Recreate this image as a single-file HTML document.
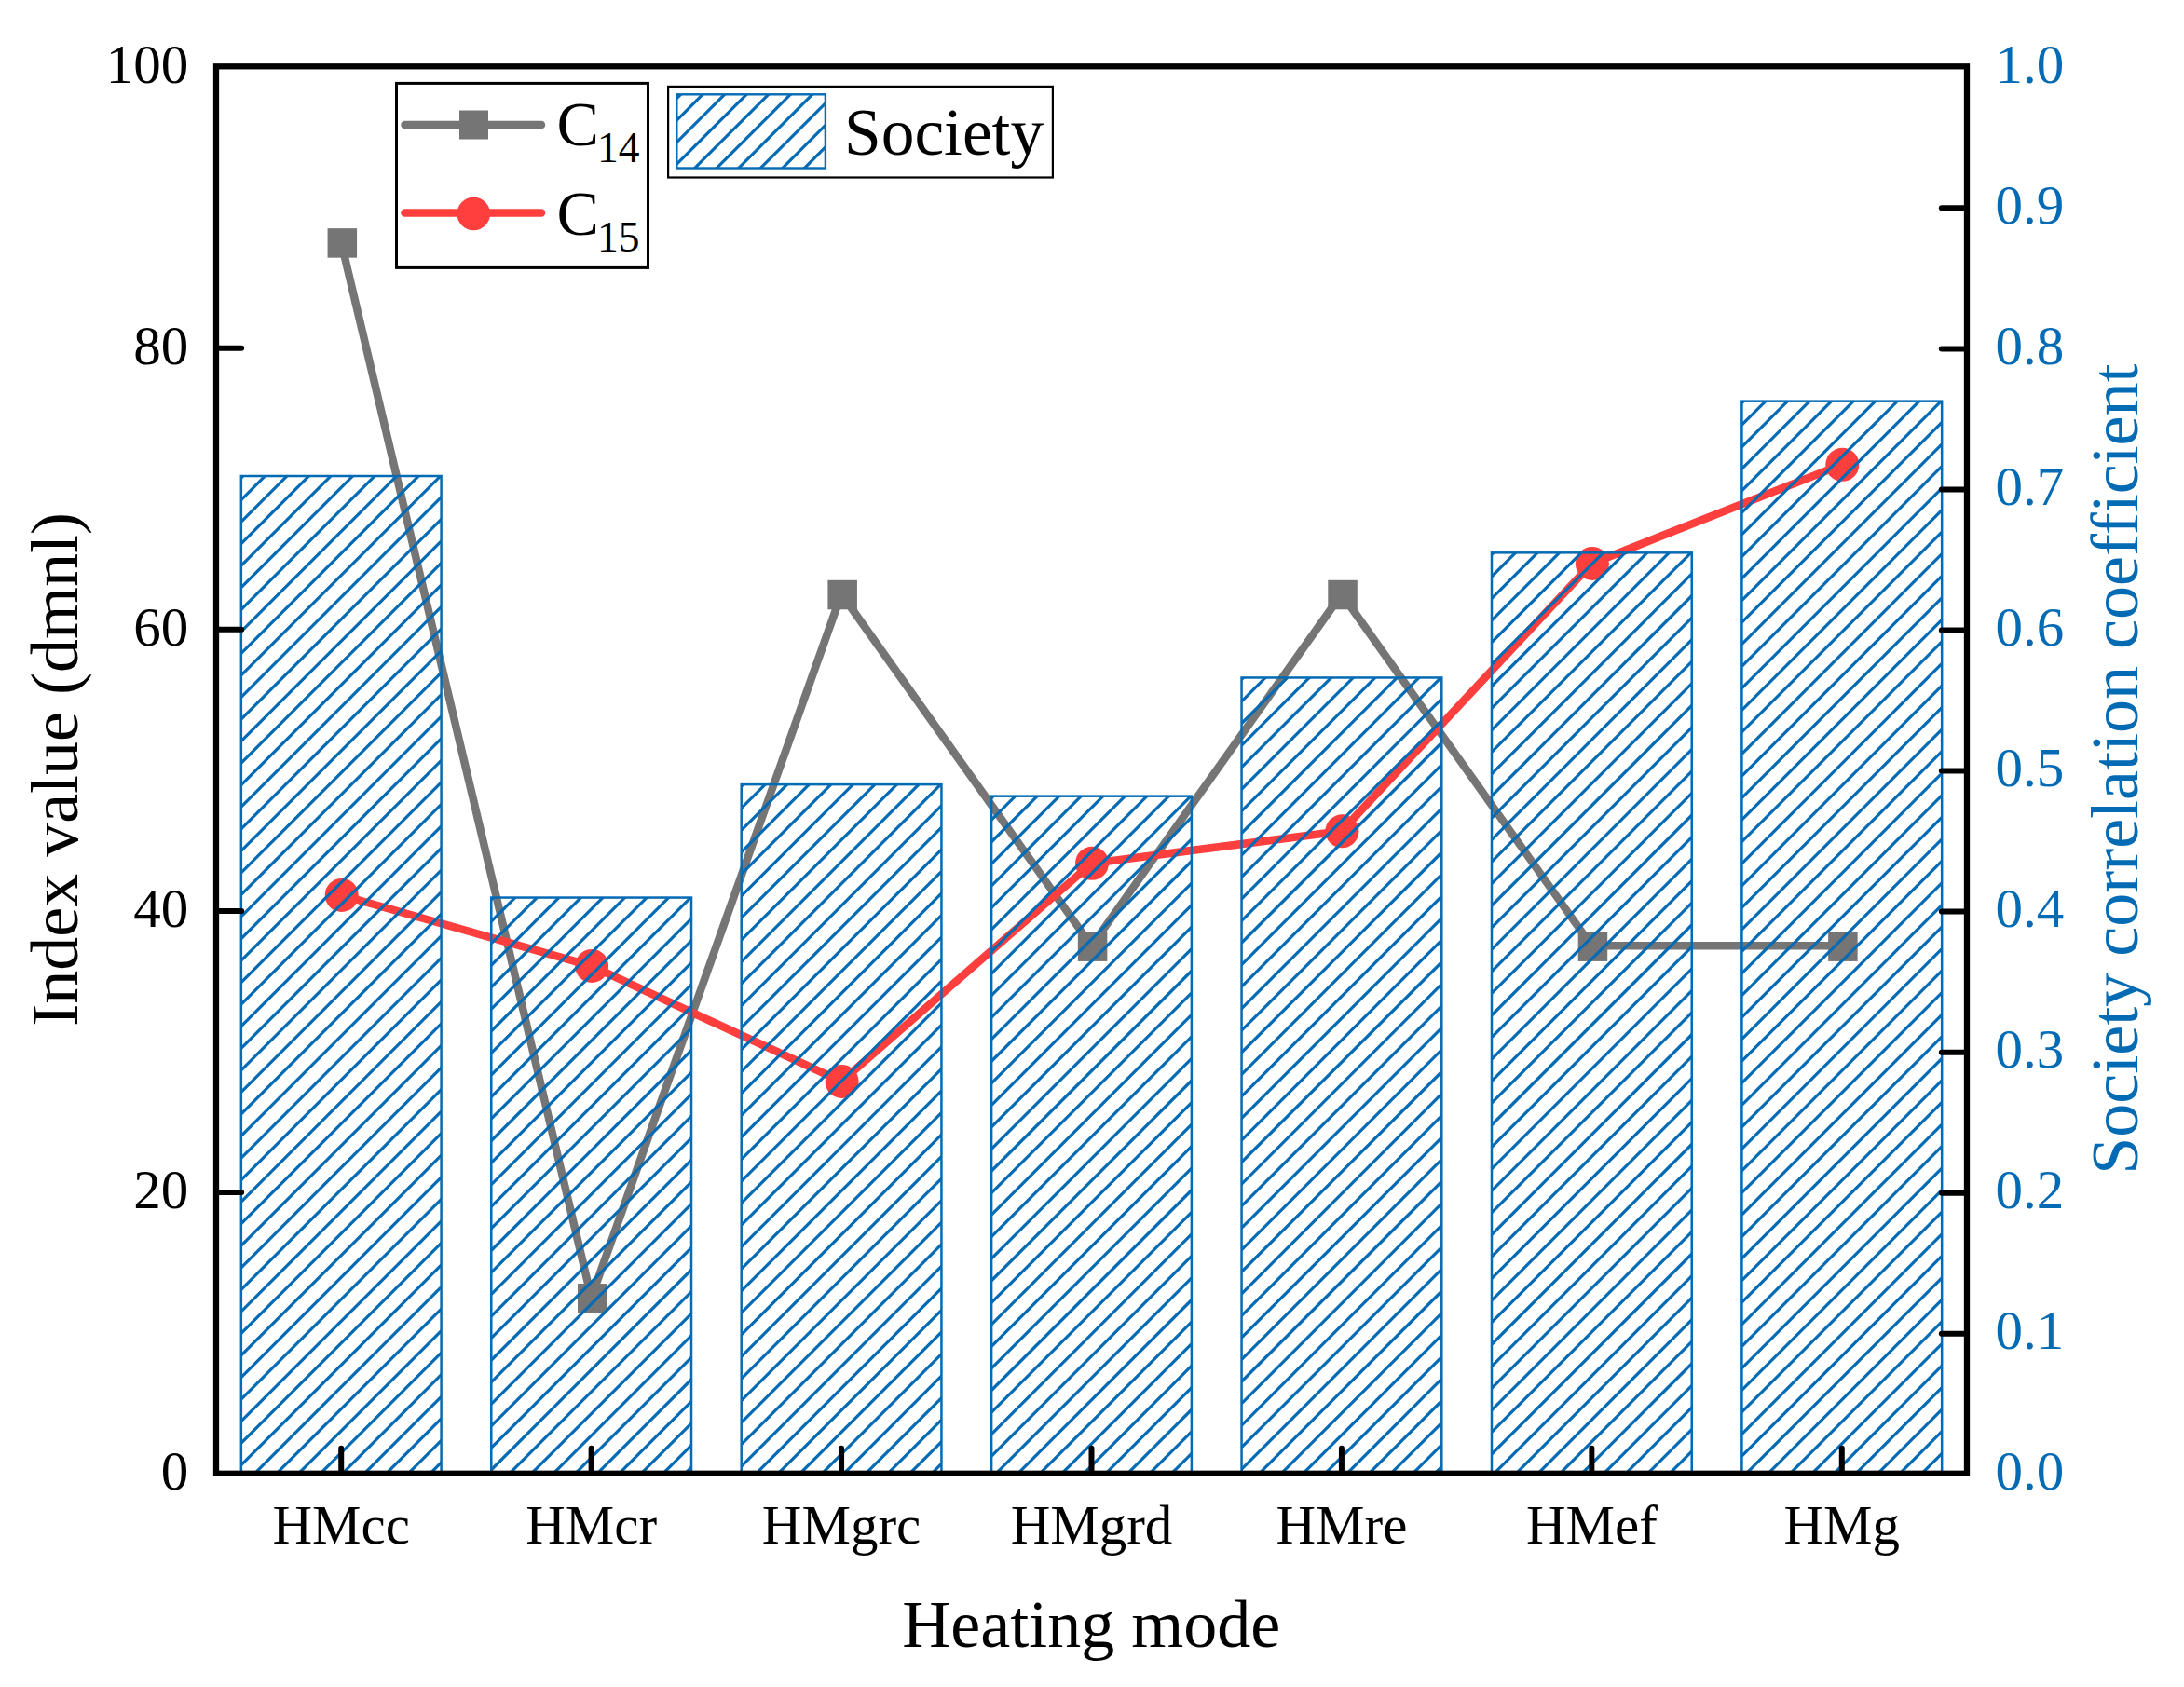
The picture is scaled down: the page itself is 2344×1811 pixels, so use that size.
<!DOCTYPE html>
<html lang="en"><head><meta charset="utf-8"><title>Heating mode chart</title>
<style>html,body{margin:0;padding:0;background:#fff;}body{width:2344px;height:1811px;overflow:hidden;}svg{display:block;}text{font-family:'Liberation Serif', 'Times New Roman', Times, serif;}</style>
</head><body>
<svg width="2344" height="1811" viewBox="0 0 2344 1811">
<rect x="0" y="0" width="2344" height="1811" fill="#ffffff"/>
<g id="series-c14">
<polyline points="366.21,260.11 634.64,1392.99 903.07,637.74 1171.50,1015.36 1439.93,637.74 1708.36,1015.36 1976.79,1015.36" fill="none" stroke="#757575" stroke-width="8.50" stroke-linejoin="round" stroke-linecap="round"/>
<rect x="351.56" y="245.16" width="31.5" height="31.5" fill="#757575"/>
<rect x="619.99" y="1378.04" width="31.5" height="31.5" fill="#757575"/>
<rect x="888.42" y="622.79" width="31.5" height="31.5" fill="#757575"/>
<rect x="1156.85" y="1000.41" width="31.5" height="31.5" fill="#757575"/>
<rect x="1425.28" y="622.79" width="31.5" height="31.5" fill="#757575"/>
<rect x="1693.71" y="1000.41" width="31.5" height="31.5" fill="#757575"/>
<rect x="1962.14" y="1000.41" width="31.5" height="31.5" fill="#757575"/>
</g>
<g id="series-c15">
<polyline points="366.21,960.98 634.64,1036.96 903.07,1160.97 1171.50,926.85 1439.93,892.26 1708.36,604.96 1976.79,498.77" fill="none" stroke="#ff3e3e" stroke-width="8.50" stroke-linejoin="round" stroke-linecap="round"/>
<circle cx="366.71" cy="960.98" r="18" fill="#ff3e3e"/>
<circle cx="635.14" cy="1036.96" r="18" fill="#ff3e3e"/>
<circle cx="903.57" cy="1160.97" r="18" fill="#ff3e3e"/>
<circle cx="1172.00" cy="926.85" r="18" fill="#ff3e3e"/>
<circle cx="1440.43" cy="892.26" r="18" fill="#ff3e3e"/>
<circle cx="1708.86" cy="604.96" r="18" fill="#ff3e3e"/>
<circle cx="1977.29" cy="498.77" r="18" fill="#ff3e3e"/>
</g>
<g id="bars">
<clipPath id="cb0"><rect x="258.84" y="511.01" width="214.74" height="1070.79"/></clipPath>
<g clip-path="url(#cb0)" stroke="#036ab4" stroke-width="3.20" fill="none">
<path d="M253.84 518.01 L265.84 506.01 M253.84 541.56 L289.39 506.01 M253.84 565.11 L312.94 506.01 M253.84 588.66 L336.49 506.01 M253.84 612.21 L360.04 506.01 M253.84 635.76 L383.59 506.01 M253.84 659.31 L407.14 506.01 M253.84 682.86 L430.69 506.01 M253.84 706.41 L454.24 506.01 M253.84 729.96 L477.79 506.01 M253.84 753.51 L501.34 506.01 M253.84 777.06 L524.89 506.01 M253.84 800.61 L548.44 506.01 M253.84 824.16 L571.99 506.01 M253.84 847.71 L595.54 506.01 M253.84 871.26 L619.09 506.01 M253.84 894.81 L642.64 506.01 M253.84 918.36 L666.19 506.01 M253.84 941.91 L689.74 506.01 M253.84 965.46 L713.29 506.01 M253.84 989.01 L736.84 506.01 M253.84 1012.56 L760.39 506.01 M253.84 1036.11 L783.94 506.01 M253.84 1059.66 L807.49 506.01 M253.84 1083.21 L831.04 506.01 M253.84 1106.76 L854.59 506.01 M253.84 1130.31 L878.14 506.01 M253.84 1153.86 L901.69 506.01 M253.84 1177.41 L925.24 506.01 M253.84 1200.96 L948.79 506.01 M253.84 1224.51 L972.34 506.01 M253.84 1248.06 L995.89 506.01 M253.84 1271.61 L1019.44 506.01 M253.84 1295.16 L1042.99 506.01 M253.84 1318.71 L1066.54 506.01 M253.84 1342.26 L1090.09 506.01 M253.84 1365.81 L1113.64 506.01 M253.84 1389.36 L1137.19 506.01 M253.84 1412.91 L1160.74 506.01 M253.84 1436.46 L1184.29 506.01 M253.84 1460.01 L1207.84 506.01 M253.84 1483.56 L1231.39 506.01 M253.84 1507.11 L1254.94 506.01 M253.84 1530.66 L1278.49 506.01 M253.84 1554.21 L1302.04 506.01 M253.84 1577.76 L1325.59 506.01 M253.84 1601.31 L1349.14 506.01 M253.84 1624.86 L1372.69 506.01 M253.84 1648.41 L1396.24 506.01 M253.84 1671.96 L1419.79 506.01 M253.84 1695.51 L1443.34 506.01 M253.84 1719.06 L1466.89 506.01 M253.84 1742.61 L1490.44 506.01 M253.84 1766.16 L1513.99 506.01 M253.84 1789.71 L1537.54 506.01"/>
</g>
<rect x="258.84" y="511.01" width="214.74" height="1070.79" fill="none" stroke="#036ab4" stroke-width="2.5"/>
<clipPath id="cb1"><rect x="527.27" y="963.55" width="214.74" height="618.25"/></clipPath>
<g clip-path="url(#cb1)" stroke="#036ab4" stroke-width="3.20" fill="none">
<path d="M522.27 970.55 L534.27 958.55 M522.27 994.10 L557.82 958.55 M522.27 1017.65 L581.37 958.55 M522.27 1041.20 L604.92 958.55 M522.27 1064.75 L628.47 958.55 M522.27 1088.30 L652.02 958.55 M522.27 1111.85 L675.57 958.55 M522.27 1135.40 L699.12 958.55 M522.27 1158.95 L722.67 958.55 M522.27 1182.50 L746.22 958.55 M522.27 1206.05 L769.77 958.55 M522.27 1229.60 L793.32 958.55 M522.27 1253.15 L816.87 958.55 M522.27 1276.70 L840.42 958.55 M522.27 1300.25 L863.97 958.55 M522.27 1323.80 L887.52 958.55 M522.27 1347.35 L911.07 958.55 M522.27 1370.90 L934.62 958.55 M522.27 1394.45 L958.17 958.55 M522.27 1418.00 L981.72 958.55 M522.27 1441.55 L1005.27 958.55 M522.27 1465.10 L1028.82 958.55 M522.27 1488.65 L1052.37 958.55 M522.27 1512.20 L1075.92 958.55 M522.27 1535.75 L1099.47 958.55 M522.27 1559.30 L1123.02 958.55 M522.27 1582.85 L1146.57 958.55 M522.27 1606.40 L1170.12 958.55 M522.27 1629.95 L1193.67 958.55 M522.27 1653.50 L1217.22 958.55 M522.27 1677.05 L1240.77 958.55 M522.27 1700.60 L1264.32 958.55 M522.27 1724.15 L1287.87 958.55 M522.27 1747.70 L1311.42 958.55 M522.27 1771.25 L1334.97 958.55 M522.27 1794.80 L1358.52 958.55"/>
</g>
<rect x="527.27" y="963.55" width="214.74" height="618.25" fill="none" stroke="#036ab4" stroke-width="2.5"/>
<clipPath id="cb2"><rect x="795.70" y="842.11" width="214.74" height="739.69"/></clipPath>
<g clip-path="url(#cb2)" stroke="#036ab4" stroke-width="3.20" fill="none">
<path d="M790.70 849.11 L802.70 837.11 M790.70 872.66 L826.25 837.11 M790.70 896.21 L849.80 837.11 M790.70 919.76 L873.35 837.11 M790.70 943.31 L896.90 837.11 M790.70 966.86 L920.45 837.11 M790.70 990.41 L944.00 837.11 M790.70 1013.96 L967.55 837.11 M790.70 1037.51 L991.10 837.11 M790.70 1061.06 L1014.65 837.11 M790.70 1084.61 L1038.20 837.11 M790.70 1108.16 L1061.75 837.11 M790.70 1131.71 L1085.30 837.11 M790.70 1155.26 L1108.85 837.11 M790.70 1178.81 L1132.40 837.11 M790.70 1202.36 L1155.95 837.11 M790.70 1225.91 L1179.50 837.11 M790.70 1249.46 L1203.05 837.11 M790.70 1273.01 L1226.60 837.11 M790.70 1296.56 L1250.15 837.11 M790.70 1320.11 L1273.70 837.11 M790.70 1343.66 L1297.25 837.11 M790.70 1367.21 L1320.80 837.11 M790.70 1390.76 L1344.35 837.11 M790.70 1414.31 L1367.90 837.11 M790.70 1437.86 L1391.45 837.11 M790.70 1461.41 L1415.00 837.11 M790.70 1484.96 L1438.55 837.11 M790.70 1508.51 L1462.10 837.11 M790.70 1532.06 L1485.65 837.11 M790.70 1555.61 L1509.20 837.11 M790.70 1579.16 L1532.75 837.11 M790.70 1602.71 L1556.30 837.11 M790.70 1626.26 L1579.85 837.11 M790.70 1649.81 L1603.40 837.11 M790.70 1673.36 L1626.95 837.11 M790.70 1696.91 L1650.50 837.11 M790.70 1720.46 L1674.05 837.11 M790.70 1744.01 L1697.60 837.11 M790.70 1767.56 L1721.15 837.11 M790.70 1791.11 L1744.70 837.11"/>
</g>
<rect x="795.70" y="842.11" width="214.74" height="739.69" fill="none" stroke="#036ab4" stroke-width="2.5"/>
<clipPath id="cb3"><rect x="1064.13" y="854.65" width="214.74" height="727.15"/></clipPath>
<g clip-path="url(#cb3)" stroke="#036ab4" stroke-width="3.20" fill="none">
<path d="M1059.13 861.65 L1071.13 849.65 M1059.13 885.20 L1094.68 849.65 M1059.13 908.75 L1118.23 849.65 M1059.13 932.30 L1141.78 849.65 M1059.13 955.85 L1165.33 849.65 M1059.13 979.40 L1188.88 849.65 M1059.13 1002.95 L1212.43 849.65 M1059.13 1026.50 L1235.98 849.65 M1059.13 1050.05 L1259.53 849.65 M1059.13 1073.60 L1283.08 849.65 M1059.13 1097.15 L1306.63 849.65 M1059.13 1120.70 L1330.18 849.65 M1059.13 1144.25 L1353.73 849.65 M1059.13 1167.80 L1377.28 849.65 M1059.13 1191.35 L1400.83 849.65 M1059.13 1214.90 L1424.38 849.65 M1059.13 1238.45 L1447.93 849.65 M1059.13 1262.00 L1471.48 849.65 M1059.13 1285.55 L1495.03 849.65 M1059.13 1309.10 L1518.58 849.65 M1059.13 1332.65 L1542.13 849.65 M1059.13 1356.20 L1565.68 849.65 M1059.13 1379.75 L1589.23 849.65 M1059.13 1403.30 L1612.78 849.65 M1059.13 1426.85 L1636.33 849.65 M1059.13 1450.40 L1659.88 849.65 M1059.13 1473.95 L1683.43 849.65 M1059.13 1497.50 L1706.98 849.65 M1059.13 1521.05 L1730.53 849.65 M1059.13 1544.60 L1754.08 849.65 M1059.13 1568.15 L1777.63 849.65 M1059.13 1591.70 L1801.18 849.65 M1059.13 1615.25 L1824.73 849.65 M1059.13 1638.80 L1848.28 849.65 M1059.13 1662.35 L1871.83 849.65 M1059.13 1685.90 L1895.38 849.65 M1059.13 1709.45 L1918.93 849.65 M1059.13 1733.00 L1942.48 849.65 M1059.13 1756.55 L1966.03 849.65 M1059.13 1780.10 L1989.58 849.65 M1059.13 1803.65 L2013.13 849.65"/>
</g>
<rect x="1064.13" y="854.65" width="214.74" height="727.15" fill="none" stroke="#036ab4" stroke-width="2.5"/>
<clipPath id="cb4"><rect x="1332.56" y="727.46" width="214.74" height="854.34"/></clipPath>
<g clip-path="url(#cb4)" stroke="#036ab4" stroke-width="3.20" fill="none">
<path d="M1327.56 734.46 L1339.56 722.46 M1327.56 758.01 L1363.11 722.46 M1327.56 781.56 L1386.66 722.46 M1327.56 805.11 L1410.21 722.46 M1327.56 828.66 L1433.76 722.46 M1327.56 852.21 L1457.31 722.46 M1327.56 875.76 L1480.86 722.46 M1327.56 899.31 L1504.41 722.46 M1327.56 922.86 L1527.96 722.46 M1327.56 946.41 L1551.51 722.46 M1327.56 969.96 L1575.06 722.46 M1327.56 993.51 L1598.61 722.46 M1327.56 1017.06 L1622.16 722.46 M1327.56 1040.61 L1645.71 722.46 M1327.56 1064.16 L1669.26 722.46 M1327.56 1087.71 L1692.81 722.46 M1327.56 1111.26 L1716.36 722.46 M1327.56 1134.81 L1739.91 722.46 M1327.56 1158.36 L1763.46 722.46 M1327.56 1181.91 L1787.01 722.46 M1327.56 1205.46 L1810.56 722.46 M1327.56 1229.01 L1834.11 722.46 M1327.56 1252.56 L1857.66 722.46 M1327.56 1276.11 L1881.21 722.46 M1327.56 1299.66 L1904.76 722.46 M1327.56 1323.21 L1928.31 722.46 M1327.56 1346.76 L1951.86 722.46 M1327.56 1370.31 L1975.41 722.46 M1327.56 1393.86 L1998.96 722.46 M1327.56 1417.41 L2022.51 722.46 M1327.56 1440.96 L2046.06 722.46 M1327.56 1464.51 L2069.61 722.46 M1327.56 1488.06 L2093.16 722.46 M1327.56 1511.61 L2116.71 722.46 M1327.56 1535.16 L2140.26 722.46 M1327.56 1558.71 L2163.81 722.46 M1327.56 1582.26 L2187.36 722.46 M1327.56 1605.81 L2210.91 722.46 M1327.56 1629.36 L2234.46 722.46 M1327.56 1652.91 L2258.01 722.46 M1327.56 1676.46 L2281.56 722.46 M1327.56 1700.01 L2305.11 722.46 M1327.56 1723.56 L2328.66 722.46 M1327.56 1747.11 L2352.21 722.46 M1327.56 1770.66 L2375.76 722.46 M1327.56 1794.21 L2399.31 722.46"/>
</g>
<rect x="1332.56" y="727.46" width="214.74" height="854.34" fill="none" stroke="#036ab4" stroke-width="2.5"/>
<clipPath id="cb5"><rect x="1600.99" y="593.33" width="214.74" height="988.47"/></clipPath>
<g clip-path="url(#cb5)" stroke="#036ab4" stroke-width="3.20" fill="none">
<path d="M1595.99 600.33 L1607.99 588.33 M1595.99 623.88 L1631.54 588.33 M1595.99 647.43 L1655.09 588.33 M1595.99 670.98 L1678.64 588.33 M1595.99 694.53 L1702.19 588.33 M1595.99 718.08 L1725.74 588.33 M1595.99 741.63 L1749.29 588.33 M1595.99 765.18 L1772.84 588.33 M1595.99 788.73 L1796.39 588.33 M1595.99 812.28 L1819.94 588.33 M1595.99 835.83 L1843.49 588.33 M1595.99 859.38 L1867.04 588.33 M1595.99 882.93 L1890.59 588.33 M1595.99 906.48 L1914.14 588.33 M1595.99 930.03 L1937.69 588.33 M1595.99 953.58 L1961.24 588.33 M1595.99 977.13 L1984.79 588.33 M1595.99 1000.68 L2008.34 588.33 M1595.99 1024.23 L2031.89 588.33 M1595.99 1047.78 L2055.44 588.33 M1595.99 1071.33 L2078.99 588.33 M1595.99 1094.88 L2102.54 588.33 M1595.99 1118.43 L2126.09 588.33 M1595.99 1141.98 L2149.64 588.33 M1595.99 1165.53 L2173.19 588.33 M1595.99 1189.08 L2196.74 588.33 M1595.99 1212.63 L2220.29 588.33 M1595.99 1236.18 L2243.84 588.33 M1595.99 1259.73 L2267.39 588.33 M1595.99 1283.28 L2290.94 588.33 M1595.99 1306.83 L2314.49 588.33 M1595.99 1330.38 L2338.04 588.33 M1595.99 1353.93 L2361.59 588.33 M1595.99 1377.48 L2385.14 588.33 M1595.99 1401.03 L2408.69 588.33 M1595.99 1424.58 L2432.24 588.33 M1595.99 1448.13 L2455.79 588.33 M1595.99 1471.68 L2479.34 588.33 M1595.99 1495.23 L2502.89 588.33 M1595.99 1518.78 L2526.44 588.33 M1595.99 1542.33 L2549.99 588.33 M1595.99 1565.88 L2573.54 588.33 M1595.99 1589.43 L2597.09 588.33 M1595.99 1612.98 L2620.64 588.33 M1595.99 1636.53 L2644.19 588.33 M1595.99 1660.08 L2667.74 588.33 M1595.99 1683.63 L2691.29 588.33 M1595.99 1707.18 L2714.84 588.33 M1595.99 1730.73 L2738.39 588.33 M1595.99 1754.28 L2761.94 588.33 M1595.99 1777.83 L2785.49 588.33 M1595.99 1801.38 L2809.04 588.33"/>
</g>
<rect x="1600.99" y="593.33" width="214.74" height="988.47" fill="none" stroke="#036ab4" stroke-width="2.5"/>
<clipPath id="cb6"><rect x="1869.41" y="430.65" width="214.74" height="1151.15"/></clipPath>
<g clip-path="url(#cb6)" stroke="#036ab4" stroke-width="3.20" fill="none">
<path d="M1864.41 437.65 L1876.41 425.65 M1864.41 461.20 L1899.96 425.65 M1864.41 484.75 L1923.51 425.65 M1864.41 508.30 L1947.06 425.65 M1864.41 531.85 L1970.61 425.65 M1864.41 555.40 L1994.16 425.65 M1864.41 578.95 L2017.71 425.65 M1864.41 602.50 L2041.26 425.65 M1864.41 626.05 L2064.81 425.65 M1864.41 649.60 L2088.36 425.65 M1864.41 673.15 L2111.91 425.65 M1864.41 696.70 L2135.46 425.65 M1864.41 720.25 L2159.01 425.65 M1864.41 743.80 L2182.56 425.65 M1864.41 767.35 L2206.11 425.65 M1864.41 790.90 L2229.66 425.65 M1864.41 814.45 L2253.21 425.65 M1864.41 838.00 L2276.76 425.65 M1864.41 861.55 L2300.31 425.65 M1864.41 885.10 L2323.86 425.65 M1864.41 908.65 L2347.41 425.65 M1864.41 932.20 L2370.96 425.65 M1864.41 955.75 L2394.51 425.65 M1864.41 979.30 L2418.06 425.65 M1864.41 1002.85 L2441.61 425.65 M1864.41 1026.40 L2465.16 425.65 M1864.41 1049.95 L2488.71 425.65 M1864.41 1073.50 L2512.26 425.65 M1864.41 1097.05 L2535.81 425.65 M1864.41 1120.60 L2559.36 425.65 M1864.41 1144.15 L2582.91 425.65 M1864.41 1167.70 L2606.46 425.65 M1864.41 1191.25 L2630.01 425.65 M1864.41 1214.80 L2653.56 425.65 M1864.41 1238.35 L2677.11 425.65 M1864.41 1261.90 L2700.66 425.65 M1864.41 1285.45 L2724.21 425.65 M1864.41 1309.00 L2747.76 425.65 M1864.41 1332.55 L2771.31 425.65 M1864.41 1356.10 L2794.86 425.65 M1864.41 1379.65 L2818.41 425.65 M1864.41 1403.20 L2841.96 425.65 M1864.41 1426.75 L2865.51 425.65 M1864.41 1450.30 L2889.06 425.65 M1864.41 1473.85 L2912.61 425.65 M1864.41 1497.40 L2936.16 425.65 M1864.41 1520.95 L2959.71 425.65 M1864.41 1544.50 L2983.26 425.65 M1864.41 1568.05 L3006.81 425.65 M1864.41 1591.60 L3030.36 425.65 M1864.41 1615.15 L3053.91 425.65 M1864.41 1638.70 L3077.46 425.65 M1864.41 1662.25 L3101.01 425.65 M1864.41 1685.80 L3124.56 425.65 M1864.41 1709.35 L3148.11 425.65 M1864.41 1732.90 L3171.66 425.65 M1864.41 1756.45 L3195.21 425.65 M1864.41 1780.00 L3218.76 425.65 M1864.41 1803.55 L3242.31 425.65"/>
</g>
<rect x="1869.41" y="430.65" width="214.74" height="1151.15" fill="none" stroke="#036ab4" stroke-width="2.5"/>
</g>
<g id="ticks" stroke="#000" stroke-width="6.00" fill="none" stroke-linecap="round">
<line x1="233.00" y1="1280.00" x2="259.15" y2="1280.00"/>
<line x1="233.00" y1="977.90" x2="259.15" y2="977.90"/>
<line x1="233.00" y1="675.80" x2="259.15" y2="675.80"/>
<line x1="233.00" y1="373.70" x2="259.15" y2="373.70"/>
<line x1="2110.00" y1="1431.75" x2="2083.85" y2="1431.75"/>
<line x1="2110.00" y1="1280.70" x2="2083.85" y2="1280.70"/>
<line x1="2110.00" y1="1129.65" x2="2083.85" y2="1129.65"/>
<line x1="2110.00" y1="978.60" x2="2083.85" y2="978.60"/>
<line x1="2110.00" y1="827.55" x2="2083.85" y2="827.55"/>
<line x1="2110.00" y1="676.50" x2="2083.85" y2="676.50"/>
<line x1="2110.00" y1="525.45" x2="2083.85" y2="525.45"/>
<line x1="2110.00" y1="374.40" x2="2083.85" y2="374.40"/>
<line x1="2110.00" y1="223.35" x2="2083.85" y2="223.35"/>
<line x1="366.21" y1="1580.80" x2="366.21" y2="1554.65"/>
<line x1="634.64" y1="1580.80" x2="634.64" y2="1554.65"/>
<line x1="903.07" y1="1580.80" x2="903.07" y2="1554.65"/>
<line x1="1171.50" y1="1580.80" x2="1171.50" y2="1554.65"/>
<line x1="1439.93" y1="1580.80" x2="1439.93" y2="1554.65"/>
<line x1="1708.36" y1="1580.80" x2="1708.36" y2="1554.65"/>
<line x1="1976.79" y1="1580.80" x2="1976.79" y2="1554.65"/>
</g>
<rect id="frame" x="232.00" y="71.30" width="1879.00" height="1510.50" fill="none" stroke="#000" stroke-width="6.30" stroke-linejoin="miter"/>
<g id="left-labels" font-size="59" fill="#000" text-anchor="end">
<text x="202.2" y="1599.20">0</text>
<text x="202.2" y="1297.10">20</text>
<text x="202.2" y="995.00">40</text>
<text x="202.2" y="692.90">60</text>
<text x="202.2" y="390.80">80</text>
<text x="202.2" y="88.70">100</text>
</g>
<g id="right-labels" font-size="59" fill="#036ab4" text-anchor="start">
<text x="2141.6" y="1599.20">0.0</text>
<text x="2141.6" y="1448.15">0.1</text>
<text x="2141.6" y="1297.10">0.2</text>
<text x="2141.6" y="1146.05">0.3</text>
<text x="2141.6" y="995.00">0.4</text>
<text x="2141.6" y="843.95">0.5</text>
<text x="2141.6" y="692.90">0.6</text>
<text x="2141.6" y="541.85">0.7</text>
<text x="2141.6" y="390.80">0.8</text>
<text x="2141.6" y="239.75">0.9</text>
<text x="2141.6" y="88.70">1.0</text>
</g>
<g id="x-labels" font-size="59" fill="#000" text-anchor="middle">
<text x="366.21" y="1656.7">HMcc</text>
<text x="634.64" y="1656.7">HMcr</text>
<text x="903.07" y="1656.7">HMgrc</text>
<text x="1171.50" y="1656.7">HMgrd</text>
<text x="1439.93" y="1656.7">HMre</text>
<text x="1708.36" y="1656.7">HMef</text>
<text x="1976.79" y="1656.7">HMg</text>
</g>
<text id="x-title" x="1171.3" y="1768" font-size="72" text-anchor="middle" fill="#000">Heating mode</text>
<text id="y-title" transform="translate(82.8 825.9) rotate(-90)" font-size="72" text-anchor="middle" fill="#000">Index value (dmnl)</text>
<text id="y2-title" transform="translate(2294 825.6) rotate(-90)" font-size="72" text-anchor="middle" fill="#036ab4">Society correlation coefficient</text>
<g id="legend-lines">
<rect x="425.5" y="89.4" width="270" height="198" fill="#fff" stroke="#000" stroke-width="3"/>
<line x1="434.5" y1="134" x2="581" y2="134" stroke="#757575" stroke-width="8.50" stroke-linecap="round"/>
<rect x="493" y="118.5" width="31" height="31" fill="#757575"/>
<line x1="434.5" y1="228.5" x2="581" y2="228.5" stroke="#ff3e3e" stroke-width="8.50" stroke-linecap="round"/>
<circle cx="508.3" cy="229.5" r="17.8" fill="#ff3e3e"/>
<text x="597.5" y="156.3" font-size="68" fill="#000">C</text>
<text x="641" y="174.2" font-size="45.5" fill="#000">14</text>
<text x="597.5" y="252.1" font-size="68" fill="#000">C</text>
<text x="641" y="270.2" font-size="45.5" fill="#000">15</text>
</g>
<g id="legend-bar">
<rect x="717.1" y="92.9" width="412.8" height="97.6" fill="#fff" stroke="#000" stroke-width="2.2"/>
<clipPath id="cleg"><rect x="726.30" y="101.30" width="159.60" height="79.20"/></clipPath>
<g clip-path="url(#cleg)" stroke="#036ab4" stroke-width="3.20" fill="none">
<path d="M721.30 110.60 L735.60 96.30 M721.30 134.15 L759.15 96.30 M721.30 157.70 L782.70 96.30 M721.30 181.25 L806.25 96.30 M721.30 204.80 L829.80 96.30 M721.30 228.35 L853.35 96.30 M721.30 251.90 L876.90 96.30 M721.30 275.45 L900.45 96.30 M721.30 299.00 L924.00 96.30 M721.30 322.55 L947.55 96.30 M721.30 346.10 L971.10 96.30"/>
</g>
<rect x="726.3" y="101.3" width="159.6" height="79.2" fill="none" stroke="#036ab4" stroke-width="2.4"/>
<text x="906" y="166.2" font-size="71.4" fill="#000">Society</text>
</g>
</svg>
</body></html>
